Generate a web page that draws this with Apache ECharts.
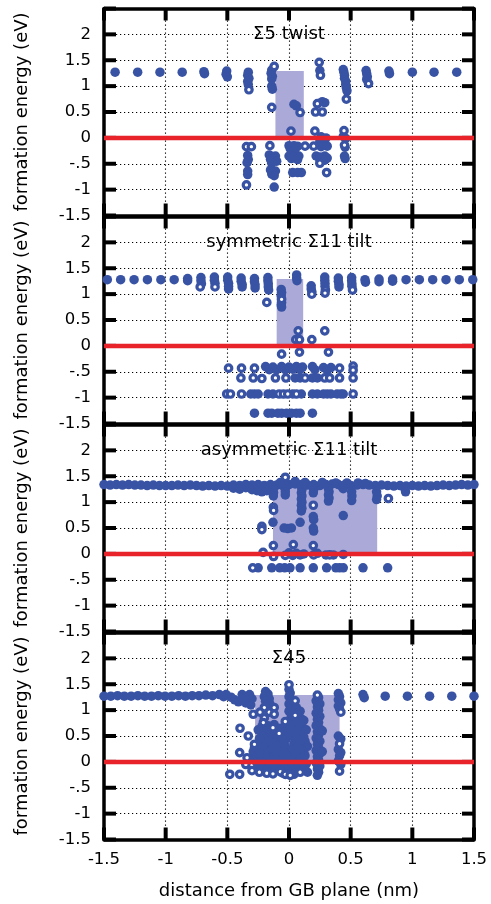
<!DOCTYPE html>
<html>
<head>
<meta charset="utf-8">
<script src="https://cdn.jsdelivr.net/npm/echarts@6/dist/echarts.min.js"></script>
<style>
  html, body { margin: 0; padding: 0; background: #fff; }
  #chart { width: 491px; height: 904px; }
</style>
</head>
<body>
<div id="chart"></div>
<script>
// ---- axis ranges and tick labels ----
const xMin = -1.5, xMax = 1.5, xStep = 0.5;
const yMin = -1.5, yMax = 2.5, yStep = 0.5;
const xTickValues = [-1.5, -1, -0.5, 0, 0.5, 1, 1.5];
const yTickValues = [-1.5, -1, -0.5, 0, 0.5, 1, 1.5, 2, 2.5];
const xTickLabels = ['-1.5', '-1', '-0.5', '0', '0.5', '1', '1.5'];
const yTickLabels = ['-1.5', '-1', '-.5', '0', '0.5', '1', '1.5', '2'];
const panelTitles = ['\u03A35 twist', 'symmetric \u03A311 tilt', 'asymmetric \u03A311 tilt', '\u03A345'];
const yAxisTitle = 'formation energy (eV)';
const xAxisTitle = 'distance from GB plane (nm)';

// shaded boundary region per panel: [x start, x end, upper energy]
const coreRegions = [
  [-0.11, 0.12, 1.29],
  [-0.10, 0.115, 1.29],
  [-0.13, 0.715, 1.29],
  [-0.275, 0.41, 1.29]
];

// ---- Σ5 twist ----
const twistDense = [
  [-1.41,1.27],[-1.227,1.27],[-1.046,1.27],[-0.866,1.27],
  [-0.69,1.28],[-0.685,1.24],
  [-0.505,1.29],[-0.51,1.23],[-0.5,1.18],
  [-0.33,1.27],[-0.335,1.21],[-0.325,1.15],[-0.335,1.09],[-0.33,1.03],
  [-0.14,1.31],[-0.145,1.25],[-0.135,1.19],[-0.14,1.14],[-0.14,1.0],[-0.135,0.94],
  [0.44,1.32],[0.445,1.27],[0.45,1.21],[0.45,1.15],[0.46,1.09],[0.46,1.03],[0.465,0.97],[0.47,0.91],
  [0.625,1.3],[0.63,1.24],[0.635,1.18],[0.63,1.13],
  [0.81,1.29],[0.815,1.24],[1.0,1.27],[1.176,1.27],[1.36,1.27],
  [-0.335,-0.34],[-0.33,-0.42],[-0.34,-0.48],[-0.335,-0.64],[-0.335,-0.71],
  [-0.16,-0.33],[-0.11,-0.35],[-0.15,-0.42],[-0.1,-0.45],[-0.14,-0.49],
  [-0.15,-0.62],[-0.11,-0.64],[-0.14,-0.7],[-0.12,-0.73],[-0.12,-0.95],
  [0.04,0.65],[0.06,0.62],
  [0.0,-0.15],[0.04,-0.15],[0.07,-0.16],[0.01,-0.21],[0.05,-0.22],
  [0.0,-0.35],[0.04,-0.36],[0.08,-0.35],[0.02,-0.4],[0.07,-0.42],
  [0.03,-0.67],[0.07,-0.67],[0.1,-0.67],
  [0.25,1.3],
  [0.27,0.7],[0.29,0.68],
  [0.26,0.02],[0.3,0.0],[0.25,-0.07],[0.29,-0.1],[0.31,-0.16],[0.26,-0.17],
  [0.22,-0.35],[0.25,-0.37],[0.29,-0.35],[0.31,-0.39],[0.25,-0.42],[0.29,-0.43],
  [0.44,0.03],[0.46,-0.01],[0.455,-0.18],[0.45,-0.35],[0.455,-0.4]
];
const twistOpen = [
  [-0.325,0.93],[-0.345,-0.17],[-0.305,-0.17],[-0.345,-0.91],
  [-0.12,1.38],[-0.14,0.59],[-0.155,-0.15],
  [0.09,0.49],[0.016,0.13],[0.13,-0.16],
  [0.245,1.46],[0.255,1.21],[0.23,0.66],[0.215,0.5],[0.27,0.5],[0.21,0.13],[0.2,-0.16],
  [0.25,-0.49],[0.305,-0.67],
  [0.465,0.75],[0.446,0.14],[0.45,-0.14],[0.645,1.05]
];

// ---- symmetric Σ11 tilt ----
const symDense = [
  [-1.473,1.28],[-1.365,1.28],[-1.256,1.28],[-1.148,1.28],[-1.039,1.28],[-0.931,1.28],
  [-0.822,1.3],[-0.822,1.26],
  [-0.714,1.32],[-0.714,1.26],[-0.71,1.2],
  [-0.605,1.33],[-0.605,1.27],[-0.6,1.21],
  [-0.497,1.33],[-0.497,1.27],[-0.49,1.21],[-0.49,1.15],[-0.49,1.1],
  [-0.388,1.31],[-0.388,1.25],[-0.38,1.19],[-0.38,1.14],
  [-0.28,1.3],[-0.28,1.24],[-0.275,1.18],[-0.275,1.12],
  [-0.171,1.32],[-0.171,1.26],[-0.168,1.2],[-0.168,1.14],[-0.165,1.08],
  [-0.063,1.09],[-0.06,1.03],[-0.063,0.97],[-0.06,0.84],[-0.063,0.79],[-0.06,0.75],
  [0.062,1.37],[0.062,1.31],[0.065,1.26],
  [0.18,1.16],[0.18,1.1],[0.185,1.05],
  [0.29,1.33],[0.29,1.27],[0.292,1.21],[0.292,1.15],
  [0.4,1.31],[0.4,1.25],[0.405,1.19],[0.405,1.14],
  [0.508,1.32],[0.508,1.26],[0.51,1.2],[0.51,1.15],
  [0.616,1.28],[0.62,1.23],[0.73,1.29],[0.73,1.24],[0.84,1.29],[0.84,1.25],
  [0.949,1.28],[1.057,1.28],[1.165,1.28],[1.273,1.28],[1.381,1.28],[1.49,1.28],
  [-0.19,-0.4],[-0.16,-0.46],[-0.13,-0.41],[-0.1,-0.46],[-0.06,-0.4],[-0.03,-0.46],[0.0,-0.41],
  [0.03,-0.45],[0.06,-0.4],[0.09,-0.46],[0.11,-0.41],[0.19,-0.4],[0.21,-0.46],
  [0.28,-0.42],[0.31,-0.47],[0.34,-0.42],
  [0.05,-0.62],[0.09,-0.62],[0.19,-0.62],[0.23,-0.62],
  [-0.31,-0.93],[-0.28,-0.93],[-0.25,-0.93],[-0.17,-0.93],[-0.13,-0.93],
  [0.03,-0.93],[0.1,-0.93],[0.19,-0.93],[0.23,-0.93],[0.28,-0.93],[0.31,-0.93],[0.34,-0.93],
  [0.39,-0.93],[0.42,-0.93],[0.44,-0.93],
  [-0.28,-1.3],[-0.17,-1.3],[-0.14,-1.3],[-0.09,-1.3],[-0.06,-1.3],[-0.02,-1.3],
  [0.02,-1.3],[0.06,-1.3],[0.09,-1.3],[0.19,-1.3]
];
const symOpen = [
  [-0.72,1.14],[-0.6,1.14],[-0.18,0.84],[-0.06,0.9],[0.185,1.0],[0.295,1.08],[0.292,1.02],[0.515,1.08],
  [0.075,0.29],[0.055,0.12],[0.085,0.12],[0.185,0.12],[0.29,0.29],
  [-0.06,-0.16],[0.085,-0.12],[0.32,-0.12],
  [-0.49,-0.43],[-0.385,-0.43],[-0.28,-0.43],[0.41,-0.43],[0.52,-0.39],[0.52,-0.47],
  [-0.39,-0.62],[-0.29,-0.62],[-0.22,-0.63],[-0.11,-0.62],[-0.025,-0.62],[0.13,-0.62],
  [0.29,-0.62],[0.33,-0.62],[0.41,-0.62],[0.52,-0.62],
  [-0.505,-0.93],[-0.475,-0.93],[-0.385,-0.93],[-0.08,-0.93],[-0.045,-0.93],[-0.01,-0.93],
  [0.06,-0.93],[0.52,-0.93]
];

// ---- asymmetric Σ11 tilt ----
const asymDense = [
  [-1.5,1.34],[-1.45,1.33],[-1.4,1.34],[-1.35,1.33],[-1.3,1.34],[-1.25,1.33],[-1.2,1.33],
  [-1.15,1.32],[-1.1,1.33],[-1.05,1.32],[-1.0,1.32],[-0.95,1.32],[-0.9,1.33],[-0.85,1.32],
  [-0.8,1.33],[-0.75,1.32],[-0.7,1.31],[-0.65,1.32],[-0.6,1.31],[-0.55,1.32],[-0.5,1.31],
  [-0.45,1.33],[-0.4,1.32],[-0.35,1.34],[-0.3,1.33],[-0.25,1.34],[-0.2,1.32],[-0.15,1.34],
  [-0.1,1.33],[-0.05,1.32],[0.0,1.34],[0.05,1.35],[0.1,1.34],[0.15,1.33],[0.2,1.34],
  [0.25,1.32],[0.3,1.34],[0.35,1.35],[0.4,1.34],[0.45,1.33],[0.5,1.32],[0.55,1.33],
  [0.6,1.34],[0.65,1.33],[0.7,1.32],[0.75,1.33],[0.8,1.32],[0.85,1.31],[0.9,1.32],
  [0.95,1.31],[1.0,1.32],[1.05,1.31],[1.1,1.32],[1.15,1.31],[1.2,1.32],[1.25,1.33],
  [1.3,1.32],[1.35,1.33],[1.4,1.34],[1.45,1.33],[1.5,1.34],
  [-0.45,1.27],[-0.4,1.25],[-0.35,1.28],[-0.3,1.24],[-0.26,1.22],[-0.22,1.2],[-0.18,1.22],
  [-0.07,1.38],[0.05,1.4],[0.13,1.38],[0.27,1.38],[0.38,1.37],[0.47,1.37],[0.56,1.37],[0.62,1.36],
  [-0.127,1.25],[-0.125,1.18],[-0.127,1.12],[-0.13,0.61],
  [-0.03,1.38],[-0.025,1.32],[-0.03,1.26],[-0.03,1.2],[-0.03,1.14],
  [-0.04,0.5],[-0.01,0.49],[0.02,0.5],
  [0.1,1.3],[0.105,1.24],[0.1,1.18],[0.105,1.12],[0.1,1.06],[0.105,1.0],[0.1,0.94],[0.105,0.88],[0.1,0.83],
  [0.09,0.61],
  [0.197,1.3],[0.2,1.24],[0.197,1.18],[0.197,0.72],[0.2,0.66],[0.197,0.5],[0.2,0.44],
  [0.32,1.26],[0.325,1.2],[0.32,1.14],[0.325,1.08],[0.32,1.02],
  [0.43,1.3],[0.44,1.26],[0.44,0.74],
  [0.508,1.2],[0.51,1.12],[0.508,1.03],
  [0.71,1.2],[0.715,1.12],[0.71,1.05],
  [0.94,1.26],[0.945,1.2],
  [0.0,0.02],[0.03,-0.03],[0.06,0.01],[0.09,-0.02],[0.12,0.0],[0.23,0.01],[0.3,-0.02],
  [0.36,-0.02],[0.44,-0.01],
  [-0.25,-0.27],[-0.14,-0.27],[-0.075,-0.27],[-0.035,-0.27],[0.008,-0.27],[0.09,-0.27],
  [0.197,-0.27],[0.305,-0.27],[0.38,-0.27],[0.41,-0.27],[0.44,-0.27],[0.6,-0.27],[0.8,-0.27]
];
const asymOpen = [
  [-0.127,0.9],[-0.125,0.84],[-0.127,0.16],[-0.125,-0.05],
  [-0.22,0.53],[-0.22,0.47],[-0.21,0.03],
  [-0.03,1.48],[0.035,0.18],[0.197,0.94],[0.197,0.16],[0.806,1.07],
  [-0.03,-0.03],[0.2,-0.02],[0.33,-0.02],[-0.294,-0.27]
];

// ---- Σ45 ----
const s45Dense = [
  [-1.5,1.27],[-1.445,1.27],[-1.39,1.28],[-1.335,1.27],[-1.28,1.27],[-1.225,1.28],[-1.17,1.27],
  [-1.115,1.27],[-1.06,1.28],[-1.005,1.27],[-0.95,1.27],[-0.895,1.28],[-0.84,1.27],[-0.785,1.28],
  [-0.73,1.28],[-0.675,1.29],[-0.62,1.28],[-0.565,1.3],[-0.53,1.26],[-0.51,1.3],
  [-0.47,1.25],[-0.44,1.2],[-0.41,1.16],[-0.38,1.3],[-0.36,1.24],[-0.35,1.14],
  [-0.32,1.3],[-0.3,1.22],[-0.31,1.1],
  [-0.19,1.36],[-0.17,1.31],[-0.2,1.26],[-0.16,1.22],[-0.19,1.17],[-0.155,1.12],
  [-0.28,0.28],[-0.29,0.2],[-0.28,0.12],[-0.29,0.05],[-0.26,-0.02],
  [-0.22,0.68],[-0.19,0.6],[-0.21,0.5],[-0.17,0.44],[-0.2,0.36],[-0.15,0.3],[-0.21,0.24],
  [-0.16,0.18],[-0.19,0.1],[-0.14,0.04],[-0.2,-0.04],[-0.16,-0.1],[-0.21,-0.14],
  [-0.12,0.72],[-0.1,0.58],[-0.11,0.45],[-0.07,0.38],[-0.1,0.3],[-0.06,0.22],[-0.09,0.14],
  [-0.05,0.07],[-0.1,0.0],[-0.06,-0.07],[-0.09,-0.13],[-0.04,-0.16],
  [-0.03,0.6],[-0.02,0.45],[-0.03,0.3],[0.0,0.2],[-0.02,0.1],[0.01,0.0],[-0.01,-0.1],[0.02,-0.2],
  [-0.25,0.62],[-0.24,0.45],[-0.25,0.3],[-0.24,0.15],[-0.23,0.0],[-0.25,-0.1],
  [-0.17,0.7],[-0.14,0.55],[-0.15,0.38],[-0.13,0.25],[-0.12,0.1],[-0.13,-0.05],[-0.12,-0.18],
  [-0.07,0.65],[-0.06,0.5],[-0.05,0.35],[-0.04,0.15],[-0.06,0.02],[-0.05,-0.22],
  [0.03,0.5],[0.04,0.35],[0.03,0.25],[0.04,0.06],[0.03,-0.06],
  [0.11,0.66],[0.11,0.56],[0.13,0.4],[0.12,0.2],[0.11,0.04],[0.15,-0.2],
  [0.0,1.4],[0.01,1.33],[0.0,1.26],[0.02,1.2],[0.0,1.12],[0.02,1.05],[0.0,0.98],[0.02,0.9],
  [0.01,0.82],[0.0,0.74],[0.02,0.66],[0.0,0.56],
  [0.06,1.05],[0.09,0.98],[0.07,0.9],[0.1,0.83],[0.06,0.76],[0.09,0.68],[0.07,0.6],[0.1,0.52],
  [0.06,0.45],[0.09,0.38],[0.07,0.3],[0.1,0.22],[0.06,0.15],[0.09,0.08],[0.07,0.0],[0.1,-0.08],
  [0.06,-0.15],[0.04,-0.24],
  [0.12,0.8],[0.14,0.62],[0.12,0.48],[0.15,0.3],[0.13,0.12],[0.14,-0.04],[0.12,-0.16],
  [0.24,1.24],[0.22,1.18],[0.25,1.12],[0.23,1.06],[0.24,1.0],[0.22,0.94],[0.25,0.88],
  [0.23,0.82],[0.24,0.76],[0.22,0.7],[0.25,0.64],[0.23,0.58],[0.24,0.52],[0.22,0.46],[0.25,0.4],
  [0.23,0.34],[0.24,0.28],[0.22,0.22],[0.25,0.16],[0.23,0.1],[0.24,0.04],[0.22,-0.02],
  [0.25,-0.08],[0.23,-0.14],[0.24,-0.2],[0.23,-0.26],[0.27,0.6],[0.27,0.2],
  [0.4,1.32],[0.41,1.26],[0.4,1.2],[0.42,1.14],[0.4,1.08],[0.41,1.02],
  [0.4,0.5],[0.42,0.44],[0.4,0.24],[0.42,0.18],[0.41,0.12],[0.4,0.02],[0.42,-0.05],
  [0.6,1.3],[0.61,1.24],[0.78,1.27],[0.96,1.27],[1.14,1.27],[1.32,1.27],[1.5,1.27]
];
const s45Open = [
  [-0.2,1.05],[-0.235,0.96],[-0.16,0.96],[-0.12,1.05],[-0.12,0.92],[-0.29,0.92],[-0.2,0.85],
  [-0.208,0.76],[-0.13,0.66],[-0.397,0.65],[-0.4,0.18],[-0.48,-0.24],[-0.4,-0.24],
  [-0.34,0.08],[-0.35,-0.05],[-0.33,0.5],[-0.28,0.34],
  [-0.3,-0.17],[-0.24,-0.2],[-0.18,-0.22],[-0.13,-0.23],[-0.07,-0.19],[-0.03,-0.24],[0.01,-0.26],
  [-0.03,0.78],[-0.08,0.55],[0.0,1.49],[0.05,1.18],[0.05,0.9],[0.09,-0.2],
  [0.23,1.29],[0.41,0.35],[0.41,-0.18],[0.42,0.96]
];

const panelDense = [twistDense, symDense, asymDense, s45Dense];
const panelOpen = [twistOpen, symOpen, asymOpen, s45Open];

// ---- layout ----
const BLUE = '#3953a4';
const RED = '#e8232a';
const SHADE = '#aaa9d8';
const FONT = 'DejaVu Sans';
const gridLeft = 104, gridWidth = 370, gridHeight = 207;
const gridTops = [8.5, 216.5, 424.5, 632.5];
const TICK_LEN = 12, TICK_W = 4;

const dotted = { show: true, lineStyle: { color: '#000', width: 1.1, type: [1.2, 2.8] } };
const frameLine = { show: true, onZero: false, lineStyle: { color: '#000', width: 3.5 } };
const noTick = { show: false };

const grids = [], xAxes = [], yAxes = [], series = [], texts = [];

// inward tick stubs, drawn as tiny bars through the panel's own axes:
// each item is [orientation (0 = along x, 1 = along y), tick value]
const tickItems = xTickValues.map(v => [0, v]).concat(yTickValues.map(v => [1, v]));
function renderTick(params, api) {
  const along = api.value(0), v = api.value(1);
  const fill = { fill: '#000' };
  if (along === 0) {
    const b = api.coord([v, yMin]), t = api.coord([v, yMax]);
    return { type: 'group', children: [
      { type: 'rect', shape: { x: b[0] - TICK_W / 2, y: b[1] - TICK_LEN, width: TICK_W, height: TICK_LEN }, style: fill },
      { type: 'rect', shape: { x: t[0] - TICK_W / 2, y: t[1], width: TICK_W, height: TICK_LEN }, style: fill }
    ] };
  }
  const l = api.coord([xMin, v]), r = api.coord([xMax, v]);
  return { type: 'group', children: [
    { type: 'rect', shape: { x: l[0], y: l[1] - TICK_W / 2, width: TICK_LEN, height: TICK_W }, style: fill },
    { type: 'rect', shape: { x: r[0] - TICK_LEN, y: r[1] - TICK_W / 2, width: TICK_LEN, height: TICK_W }, style: fill }
  ] };
}

gridTops.forEach((top, i) => {
  grids.push({ left: gridLeft, top: top, width: gridWidth, height: gridHeight, show: false });
  const xBase = { type: 'value', gridIndex: i, min: xMin, max: xMax, interval: xStep, axisLine: frameLine, axisTick: noTick };
  xAxes.push(Object.assign({}, xBase, {
    position: 'bottom', splitLine: dotted,
    axisLabel: {
      show: i === gridTops.length - 1, margin: 12, color: '#000', fontFamily: FONT, fontSize: 16.5,
      formatter: v => xTickLabels[Math.round((v - xMin) / xStep)] || ''
    }
  }));
  xAxes.push(Object.assign({}, xBase, {
    position: 'top', splitLine: { show: false }, axisLabel: { show: false }
  }));
  const yBase = { type: 'value', gridIndex: i, min: yMin, max: yMax, interval: yStep, axisLine: frameLine, axisTick: noTick };
  yAxes.push(Object.assign({}, yBase, {
    position: 'left', splitLine: dotted,
    axisLabel: {
      margin: 13, color: '#000', fontFamily: FONT, fontSize: 16.5,
      formatter: v => yTickLabels[Math.round((v - yMin) / yStep)] || ''
    }
  }));
  yAxes.push(Object.assign({}, yBase, {
    position: 'right', splitLine: { show: false }, axisLabel: { show: false }
  }));

  const xi = 2 * i, yi = 2 * i;
  series.push({
    type: 'custom', xAxisIndex: xi, yAxisIndex: yi, z: 1, silent: true,
    data: [coreRegions[i]], encode: { x: [0, 1], y: 2 },
    renderItem: (params, api) => {
      const p0 = api.coord([api.value(0), 0]);
      const p1 = api.coord([api.value(1), api.value(2)]);
      return {
        type: 'rect',
        shape: { x: p0[0], y: p1[1], width: p1[0] - p0[0], height: p0[1] - p1[1] },
        style: { fill: SHADE }
      };
    }
  });
  series.push({
    type: 'scatter', xAxisIndex: xi, yAxisIndex: yi, z: 2, data: panelDense[i],
    symbol: 'circle', symbolSize: 9.5, itemStyle: { color: BLUE, opacity: 1 }
  });
  series.push({
    type: 'scatter', xAxisIndex: xi, yAxisIndex: yi, z: 3, data: panelOpen[i],
    symbol: 'circle', symbolSize: 6.5,
    itemStyle: { color: '#fff', borderColor: BLUE, borderWidth: 3.2, opacity: 1 }
  });
  series.push({
    type: 'line', xAxisIndex: xi, yAxisIndex: yi, z: 4, data: [[xMin, 0], [xMax, 0]],
    symbol: 'none', lineStyle: { color: RED, width: 4.5 }
  });
  series.push({
    type: 'custom', xAxisIndex: xi, yAxisIndex: yi, z: 1, silent: true, clip: false,
    dimensions: ['along', 'value'], encode: { x: 1, y: 1 },
    data: tickItems, renderItem: renderTick
  });

  texts.push({
    type: 'text', x: gridLeft + gridWidth * (0 - xMin) / (xMax - xMin), y: top + 26, z: 10,
    style: { text: panelTitles[i], font: '18px "' + FONT + '"', fill: '#000',
      textAlign: 'center', textVerticalAlign: 'middle', align: 'center', verticalAlign: 'middle' }
  });
  texts.push({
    type: 'text', x: 22.5, y: top + gridHeight / 2, rotation: Math.PI / 2, z: 10,
    style: { text: yAxisTitle, font: '18px "' + FONT + '"', fill: '#000',
      textAlign: 'center', textVerticalAlign: 'middle', align: 'center', verticalAlign: 'middle' }
  });
});

texts.push({
  type: 'text', x: gridLeft + gridWidth / 2, y: 891, z: 10,
  style: { text: xAxisTitle, font: '18px "' + FONT + '"', fill: '#000',
    textAlign: 'center', textVerticalAlign: 'middle', align: 'center', verticalAlign: 'middle' }
});

const chart = echarts.init(document.getElementById('chart'), null, { renderer: 'canvas' });
chart.setOption({
  animation: false,
  backgroundColor: '#fff',
  grid: grids,
  xAxis: xAxes,
  yAxis: yAxes,
  series: series,
  graphic: { elements: texts }
});
</script>
</body>
</html>
